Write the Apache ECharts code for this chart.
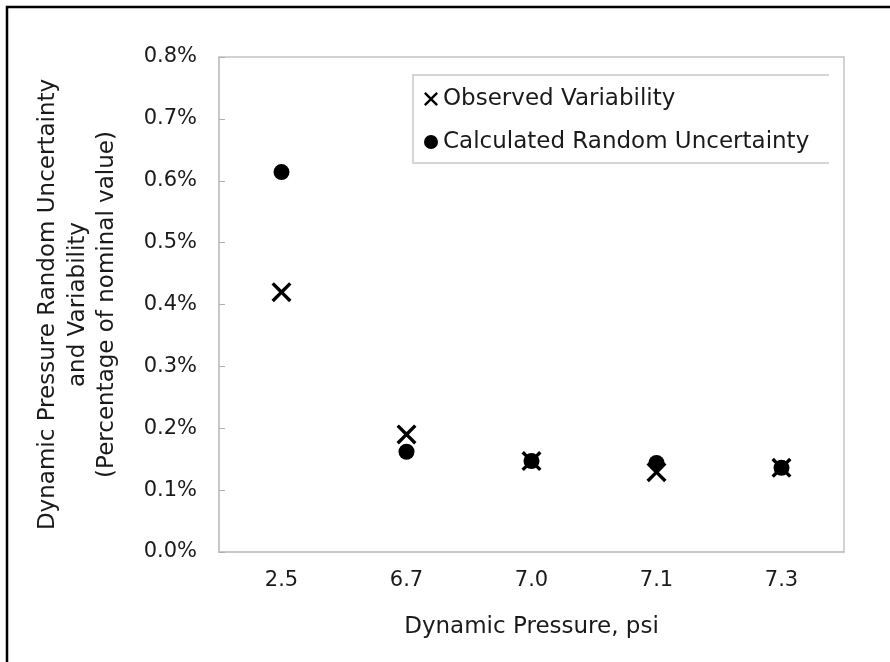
<!DOCTYPE html>
<html>
<head>
<meta charset="utf-8">
<script src="https://cdn.jsdelivr.net/npm/echarts@6/dist/echarts.min.js"></script>
<style>
	html, body { margin: 0; padding: 0; background: #fff; }
	#main { width: 890px; height: 662px; }
</style>
</head>
<body>
<div id="main"></div>
<script>
	// dynamic pressure settings (psi)
	var categories = ['2.5', '6.7', '7.0', '7.1', '7.3'];
	// values in % of nominal value
	var observedVariability = [0.42, 0.19, 0.147, 0.129, 0.136];
	var calculatedUncertainty = [0.614, 0.162, 0.147, 0.144, 0.136];
	var yTicks = [0, 0.1, 0.2, 0.3, 0.4, 0.5, 0.6, 0.7, 0.8];

	var FONT = 'DejaVu Sans';
	var TXT = '#1a1a1a';
	var crossPath = 'path://M0,1.2L1.2,0L5,3.8L8.8,0L10,1.2L6.2,5L10,8.8L8.8,10L5,6.2L1.2,10L0,8.8L3.8,5Z';

	var myChart = echarts.init(document.getElementById('main'));
	var option = {
		backgroundColor: '#fff',
		animation: false,
		grid: {
			left: 219,
			right: 46,
			top: 57,
			bottom: 110,
			show: true,
			borderColor: '#c4c4c4',
			borderWidth: 1.5
		},
		legend: {
			orient: 'vertical',
			left: 424,
			top: 87,
			padding: 0,
			itemWidth: 14,
			itemHeight: 14,
			itemGap: 19,
			textStyle: { fontFamily: FONT, fontSize: 23, color: TXT, lineHeight: 24 },
			data: [
				{ name: 'Observed Variability', icon: crossPath },
				{ name: 'Calculated Random Uncertainty', icon: 'circle' }
			]
		},
		xAxis: {
			type: 'category',
			data: categories,
			boundaryGap: true,
			name: 'Dynamic Pressure, psi',
			nameLocation: 'middle',
			nameGap: 64,
			nameTextStyle: { fontFamily: FONT, fontSize: 23, color: TXT },
			axisLine: { lineStyle: { color: '#c4c4c4', width: 1.5 } },
			axisTick: { show: false },
			axisLabel: { fontFamily: FONT, fontSize: 21, color: TXT, margin: 18 },
			splitLine: { show: false }
		},
		yAxis: {
			type: 'value',
			min: yTicks[0],
			max: yTicks[yTicks.length - 1],
			interval: 0.1,
			name: 'Dynamic Pressure Random Uncertainty\nand Variability\n(Percentage of nominal value)',
			nameLocation: 'middle',
			nameGap: 97,
			nameTextStyle: { fontFamily: FONT, fontSize: 23, color: TXT, lineHeight: 29.5 },
			axisLine: { show: true, lineStyle: { color: '#c4c4c4', width: 1.5 } },
			axisTick: { show: true, inside: true, length: 6, lineStyle: { color: '#b0b0b0' } },
			axisLabel: {
				fontFamily: FONT, fontSize: 21, color: TXT, margin: 22,
				formatter: function(v) { return v.toFixed(1) + '%'; }
			},
			splitLine: { show: false }
		},
		series: [
			{
				name: 'Calculated Random Uncertainty',
				type: 'scatter',
				symbol: 'circle',
				symbolSize: 16,
				itemStyle: { color: '#000', opacity: 1 },
				data: calculatedUncertainty
			},
			{
				name: 'Observed Variability',
				type: 'scatter',
				symbol: crossPath,
				symbolSize: 20,
				itemStyle: { color: '#000', opacity: 1 },
				data: observedVariability
			}
		],
		graphic: [
			// legend box (no right edge, like the source)
			{
				type: 'polyline',
				shape: { points: [[829, 75], [413, 75], [413, 163], [829, 163]] },
				style: { stroke: '#c8c8c8', lineWidth: 1.5, fill: null }
			},
			// outer frame
			{
				type: 'polyline',
				shape: { points: [[7, 662], [7, 7], [890, 7]] },
				style: { stroke: '#000', lineWidth: 2.5, fill: null }
			}
		]
	};
	myChart.setOption(option, true);
	window.onresize = function() {
		myChart.resize();
	};
</script>
</body>
</html>
